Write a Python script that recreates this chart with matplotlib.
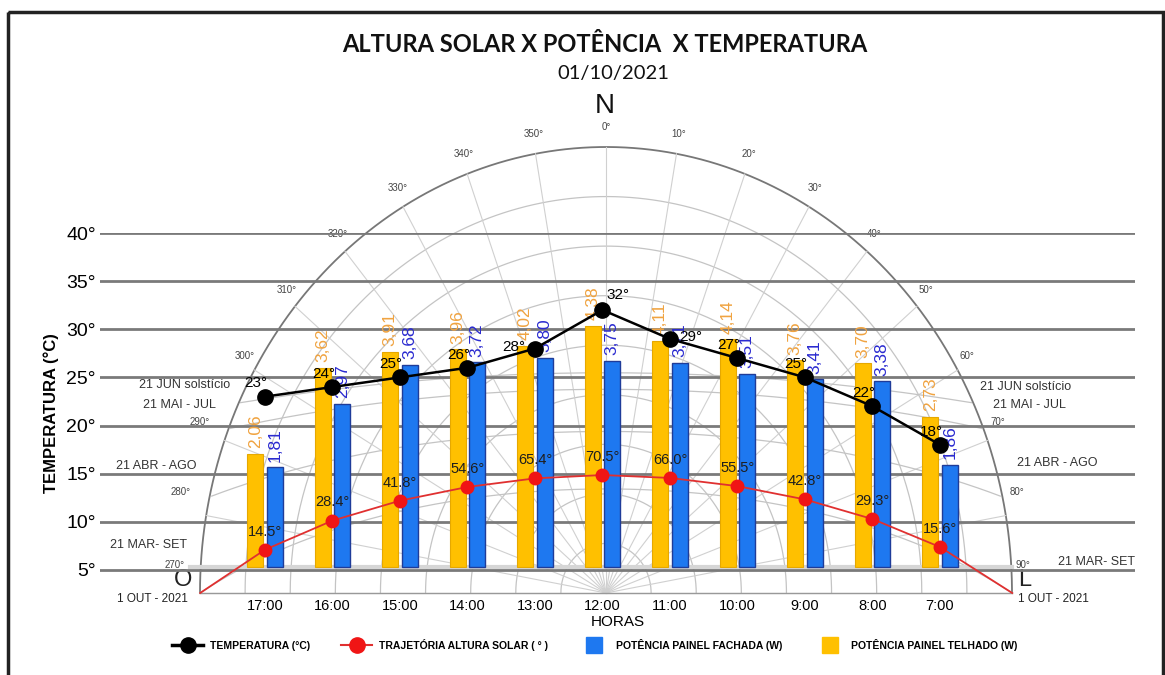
import numpy as np
import matplotlib.pyplot as plt
from matplotlib.patches import Rectangle
from matplotlib.lines import Line2D

plt.rcParams['font.family'] = ['Liberation Sans', 'DejaVu Sans']

# medições de 01/10/2021 (tarde à esquerda, manhã à direita)
horas = [17, 16, 15, 14, 13, 12, 11, 10, 9, 8, 7]
rotulos_horas = ["17:00", "16:00", "15:00", "14:00", "13:00", "12:00",
                 "11:00", "10:00", "9:00", "8:00", "7:00"]
temperatura = [23, 24, 25, 26, 28, 32, 29, 27, 25, 22, 18]
altura_solar = [14.5, 28.4, 41.8, 54.6, 65.4, 70.5, 66.0, 55.5, 42.8, 29.3, 15.6]
pot_telhado = [2.06, 3.62, 3.91, 3.96, 4.02, 4.38, 4.11, 4.14, 3.76, 3.70, 2.73]
pot_fachada = [1.81, 2.97, 3.68, 3.72, 3.80, 3.75, 3.71, 3.51, 3.41, 3.38, 1.86]
por_do_sol = 17.96      # hora em que a trajetória toca o horizonte (oeste)
nascer_do_sol = 5.93    # idem (leste)

# diagrama solar de fundo
latitude = -21.0
datas = ["21 JUN solstício", "21 MAI - JUL", "21 ABR - AGO", "21 MAR- SET"]
declinacoes = [23.44, 20.1, 11.6, 0.0]

W, H = 1165, 675
fig = plt.figure(figsize=(W / 100, H / 100), dpi=100)


def caixa(x0, y0, x1, y1):
    return [x0 / W, 1 - y1 / H, (x1 - x0) / W, (y1 - y0) / H]


bg = fig.add_axes([0, 0, 1, 1])
bg.set_xlim(0, W)
bg.set_ylim(H, 0)
bg.axis('off')
bg.add_patch(Rectangle((8, 12), W - 10, H + 20, fill=False, lw=2.5, ec='#222222'))

cx, cy, rx, ry = 606, 593, 406, 446


def proj(az, alt):
    r = (90 - np.asarray(alt)) / 90
    a = np.radians(az)
    return cx + r * rx * np.sin(a), cy - r * ry * np.cos(a)


az_arco = np.linspace(-90, 90, 300)
for alt in range(0, 90, 10):
    x, y = proj(az_arco, alt)
    bg.plot(x, y, color='#777777' if alt == 0 else '#c4c4c4',
            lw=1.3 if alt == 0 else 0.9, zorder=1)

for az in range(-90, 91, 10):
    x, y = proj(az, np.array([0, 90]))
    bg.plot(x, y, color='#d0d0d0', lw=0.8, zorder=1)
    lx, ly = proj(az, -2.5)
    ly -= 8 + 20 * max(0, (abs(az) - 60) / 30)
    if az < -60:
        lx -= 14
    bg.text(lx, ly, f"{az % 360}°", fontsize=7, color='#444444',
            ha='center', va='center')

# trajetórias aparentes do sol
hh = np.radians(np.linspace(-180, 180, 721))
lat = np.radians(latitude)
for dec in declinacoes:
    d = np.radians(dec)
    alt = np.degrees(np.arcsin(np.sin(lat) * np.sin(d) + np.cos(lat) * np.cos(d) * np.cos(hh)))
    leste = -np.cos(d) * np.sin(hh)
    norte = np.sin(d) * np.cos(lat) - np.cos(d) * np.cos(hh) * np.sin(lat)
    az = np.degrees(np.arctan2(leste, norte))
    ok = alt >= 0
    x, y = proj(az[ok], alt[ok])
    bg.plot(x, y, color='#c4c4c4', lw=0.9, zorder=1)

bg.plot([200, 1012], [593, 593], color='#999999', lw=1, zorder=1)
bg.plot([190, 1012], [567, 567], color='#d6d6d6', lw=3, zorder=1)

esq = [(230, 385), (216, 405), (196, 466), (187, 545)]
dir_ = [(980, 387), (993, 405), (1017, 463), (1058, 562)]
for nome, (xe, ye), (xd, yd) in zip(datas, esq, dir_):
    bg.text(xe, ye, nome, fontsize=9, color='#333333', ha='right', va='center')
    bg.text(xd, yd, nome, fontsize=9, color='#333333', ha='left', va='center')

bg.text(183, 580, "O", fontsize=17, color='#222222', ha='center', va='center')
bg.text(1018, 580, "L", fontsize=17, color='#222222', ha='left', va='center')
bg.text(152, 599, "1 OUT - 2021", fontsize=8.5, color='#222222', ha='center', va='center')
bg.text(1018, 599, "1 OUT - 2021", fontsize=8.5, color='#222222', ha='left', va='center')
bg.text(605, 106, "N", fontsize=20, color='#111111', ha='center', va='center')
bg.text(605, 44, "ALTURA SOLAR X POTÊNCIA  X TEMPERATURA", fontsize=17,
        fontweight='bold', family=['Lato', 'DejaVu Sans'], color='#111111',
        ha='center', va='center')
bg.text(613, 74, "01/10/2021", fontsize=14.5, family=['Lato', 'DejaVu Sans'],
        color='#111111', ha='center', va='center')

# eixo principal: temperatura
ax = fig.add_axes(caixa(100, 233, 1135, 593))
ax.patch.set_alpha(0)
ax.set_xlim(19.444, 4.111)
ax.set_ylim(2.6, 40.0)
ax.set_yticks(range(5, 41, 5))
ax.set_yticklabels([f"{v}°" for v in range(5, 41, 5)], fontsize=14)
ax.set_xticks(horas)
ax.set_xticklabels(rotulos_horas, fontsize=10.5)
ax.tick_params(length=0, pad=4)
ax.tick_params(axis='y', pad=3)
ax.yaxis.grid(True, color='#7a7a7a', lw=2)
for s in ax.spines.values():
    s.set_visible(False)
ax.set_ylabel("TEMPERATURA (°C)", fontsize=12, fontweight='bold', labelpad=5)
ax.set_xlabel("HORAS", fontsize=11, labelpad=2)

# potências dos painéis
ax_p = ax.twinx()
ax_p.set_ylim(-0.47, 6.07)
ax_p.axis('off')
larg, desl = 0.24, 0.145
xt = [h + desl for h in horas]
xf = [h - desl for h in horas]
ax_p.bar(xt, pot_telhado, width=larg, color='#FFC000', edgecolor='#e6a800', lw=0.8)
ax_p.bar(xf, pot_fachada, width=larg, color='#1E78F0', edgecolor='#1f3c99', lw=1)
for x, v in zip(xt, pot_telhado):
    ax_p.annotate(f"{v:.2f}".replace('.', ','), (x, v), xytext=(0, 4),
                  textcoords='offset points', rotation=90, ha='center', va='bottom',
                  fontsize=12.5, color='#F0A340')
for x, v in zip(xf, pot_fachada):
    ax_p.annotate(f"{v:.2f}".replace('.', ','), (x, v), xytext=(0, 4),
                  textcoords='offset points', rotation=90, ha='center', va='bottom',
                  fontsize=12.5, color='#2a2ad0')

# altura solar (escala comprimida para o alto do dia)
ax_a = fig.add_axes(caixa(100, 593 - 127.4, 1135, 593))
ax_a.patch.set_alpha(0)
ax_a.set_xlim(19.444, 4.111)
ax_a.set_yscale('function', functions=(lambda a: 1 - np.exp(-np.asarray(a) / 40),
                                       lambda f: -40 * np.log(1 - np.clip(f, None, 0.999999))))
ax_a.set_ylim(0, 90)
ax_a.axis('off')
ax_a.plot([por_do_sol] + horas + [nascer_do_sol], [0] + altura_solar + [0],
          color='#e03030', lw=1.3, clip_on=False)
ax_a.plot(horas, altura_solar, 'o', ms=9, color='#f01515', clip_on=False)
for h, v in zip(horas, altura_solar):
    ax_a.annotate(f"{v:.1f}°", (h, v), xytext=(0, 8), textcoords='offset points',
                  ha='center', va='bottom', fontsize=10.5, color='#1e1e1e')

# temperatura
ax_t = ax.twinx()
ax_t.set_ylim(2.6, 40.0)
ax_t.axis('off')
ax_t.plot(horas, temperatura, color='black', lw=1.8, marker='o', ms=11)
desvios = {12: (11, 11), 11: (15, 1), 13: (-15, 1)}
for h, v in zip(horas, temperatura):
    dx, dy = desvios.get(h, (-6.5, 9.5))
    ax_t.annotate(f"{v}°", (h, v), xytext=(dx, dy), textcoords='offset points',
                  ha='center', va='center', fontsize=11, color='black')

itens = [
    Line2D([], [], color='black', lw=2.5, marker='o', ms=11),
    Line2D([], [], color='#e03030', lw=1.5, marker='o', ms=11, mfc='#f01515', mec='#f01515'),
    Line2D([], [], ls='none', marker='s', ms=12, color='#1E78F0'),
    Line2D([], [], ls='none', marker='s', ms=12, color='#FFC000'),
]
nomes = ["TEMPERATURA (°C)", "TRAJETÓRIA ALTURA SOLAR ( ° )",
         "POTÊNCIA PAINEL FACHADA (W)", "POTÊNCIA PAINEL TELHADO (W)"]
fig.legend(itens, nomes, loc='center', bbox_to_anchor=(595 / W, 30 / H), ncol=4,
           frameon=False, prop={'size': 7.5, 'weight': 'bold'}, handlelength=3,
           columnspacing=3, handletextpad=0.6)

fig.savefig("out.png", dpi=100)
